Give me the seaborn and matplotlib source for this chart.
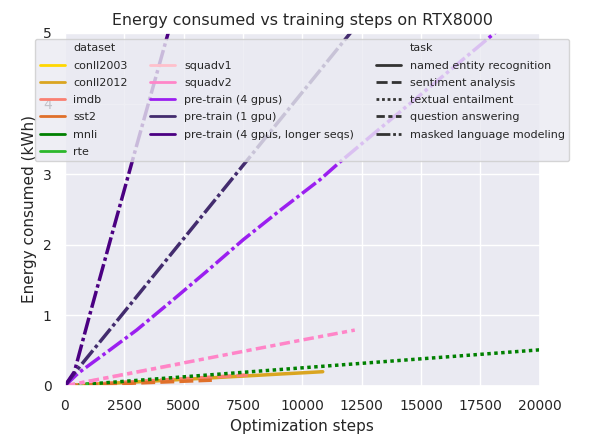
import numpy as np
import pandas as pd
import matplotlib
matplotlib.use("Agg")
import matplotlib.pyplot as plt
import seaborn as sns
from matplotlib.lines import Line2D

sns.set_theme(style="darkgrid")

# --- data ---
DATASETS = ["conll2003", "conll2012", "imdb", "sst2", "mnli", "rte",
            "squadv1", "squadv2", "pre-train (4 gpus)", "pre-train (1 gpu)",
            "pre-train (4 gpus, longer seqs)"]
TASKS = ["named entity recognition", "sentiment analysis", "textual entailment",
         "question answering", "masked language modeling"]
DATASET_TASK = {
    "conll2003": "named entity recognition",
    "conll2012": "named entity recognition",
    "imdb": "sentiment analysis",
    "sst2": "sentiment analysis",
    "mnli": "textual entailment",
    "rte": "textual entailment",
    "squadv1": "question answering",
    "squadv2": "question answering",
    "pre-train (4 gpus)": "masked language modeling",
    "pre-train (1 gpu)": "masked language modeling",
    "pre-train (4 gpus, longer seqs)": "masked language modeling",
}
COLORS = ["#ffd700", "#daa520", "#fa8072", "#e0702a", "#008000", "#2cb82c",
          "#ffc0cb", "#ff85c8", "#9b1ff0", "#432c6e", "#4b0082"]

conll2003_steps = [0, 500, 1000, 1500, 2000]
conll2003_kwh = [0, 0.009, 0.018, 0.027, 0.036]
conll2012_steps = [0, 1000, 2000, 3000, 4000, 5000, 6000, 7000, 8000, 9000, 10000, 10860]
conll2012_kwh = [0, 0.018, 0.037, 0.055, 0.073, 0.092, 0.110, 0.129, 0.147, 0.166, 0.184, 0.200]
imdb_steps = [0, 1000, 2000, 3000, 4000, 5000, 6000, 7000, 7700]
imdb_kwh = [0, 0.020, 0.040, 0.060, 0.080, 0.100, 0.120, 0.140, 0.155]
sst2_steps = [0, 1000, 2000, 3000, 4000, 5000, 6190]
sst2_kwh = [0, 0.013, 0.026, 0.039, 0.052, 0.065, 0.080]
mnli_steps = [0, 2000, 4000, 6000, 8000, 10000, 12000, 14000, 16000, 18000, 20000]
mnli_kwh = [0, 0.051, 0.102, 0.153, 0.204, 0.255, 0.306, 0.357, 0.408, 0.459, 0.510]
rte_steps = [0, 500, 1000]
rte_kwh = [0, 0.012, 0.025]
squadv1_steps = [0, 1000, 2000, 3000, 4000, 5000]
squadv1_kwh = [0, 0.063, 0.127, 0.190, 0.254, 0.318]
squadv2_steps = [0, 2000, 4000, 6000, 8000, 10000, 12210]
squadv2_kwh = [0, 0.130, 0.260, 0.390, 0.520, 0.650, 0.790]
pt4_steps = [0, 560, 1900, 3020, 4560, 6000, 7510, 9000, 10740, 11580, 13000, 14500, 16000, 17500, 18100, 20000]
pt4_kwh = [0, 0.18, 0.51, 0.79, 1.22, 1.63, 2.07, 2.47, 2.92, 3.17, 3.57, 3.99, 4.41, 4.83, 5.00, 5.53]
pt1_steps = [0, 450, 2000, 4000, 6000, 8000, 10000, 12000, 13000]
pt1_kwh = [0, 0.20, 0.84, 1.67, 2.50, 3.33, 4.16, 4.99, 5.41]
ptlong_steps = [0, 400, 1000, 2000, 3000, 4000, 4500]
ptlong_kwh = [0, 0.20, 0.95, 2.17, 3.38, 4.58, 5.18]

SERIES = {
    "conll2003": (conll2003_steps, conll2003_kwh),
    "conll2012": (conll2012_steps, conll2012_kwh),
    "imdb": (imdb_steps, imdb_kwh),
    "sst2": (sst2_steps, sst2_kwh),
    "mnli": (mnli_steps, mnli_kwh),
    "rte": (rte_steps, rte_kwh),
    "squadv1": (squadv1_steps, squadv1_kwh),
    "squadv2": (squadv2_steps, squadv2_kwh),
    "pre-train (4 gpus)": (pt4_steps, pt4_kwh),
    "pre-train (1 gpu)": (pt1_steps, pt1_kwh),
    "pre-train (4 gpus, longer seqs)": (ptlong_steps, ptlong_kwh),
}

frames = []
for name in DATASETS:
    steps, kwh = SERIES[name]
    frames.append(pd.DataFrame({"step": steps, "kwh": kwh,
                                "dataset": name, "task": DATASET_TASK[name]}))
df = pd.concat(frames, ignore_index=True)

fig, ax = plt.subplots(figsize=(6.01, 4.34), dpi=100)
fig.subplots_adjust(left=0.108, right=0.898, bottom=0.111, top=0.924)

sns.lineplot(data=df, x="step", y="kwh", hue="dataset", style="task",
             hue_order=DATASETS, style_order=TASKS, palette=COLORS,
             estimator=None, linewidth=2.5, ax=ax, legend="full")

ax.set_xlim(0, 20000)
ax.set_ylim(0, 5)
ax.set_xticks(np.arange(0, 20001, 2500))
ax.set_xlabel("Optimization steps", fontsize=11)
ax.set_ylabel("Energy consumed (kWh)", fontsize=11)
ax.tick_params(labelsize=10)
ax.set_title("Energy consumed vs training steps on RTX8000", fontsize=11.4)

# legend: three columns, padded with blank entries, group titles without handles
handles, labels = ax.get_legend_handles_labels()
handles = [Line2D([], [], linestyle="none") if lab in ("dataset", "task") else h
           for h, lab in zip(handles, labels)]
blank = Line2D([], [], linestyle="none")
handles = handles[:7] + [blank] + handles[7:12] + [blank] + handles[12:]
labels = labels[:7] + [""] + labels[7:12] + [""] + labels[12:]
for h in handles:
    h.set_linewidth(2)
ax.legend(handles, labels, ncol=3, loc="upper center", bbox_to_anchor=(0.5, 0.983),
          borderaxespad=0, fontsize=8, labelspacing=0.65, handlelength=2.25,
          framealpha=0.8)

plt.savefig("out.png", dpi=100)
